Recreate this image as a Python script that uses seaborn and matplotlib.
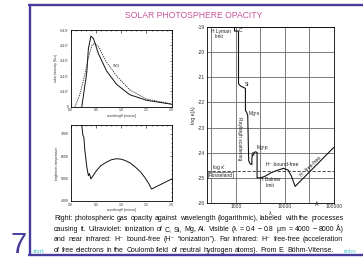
import numpy as np
import pandas as pd
import matplotlib
matplotlib.use("Agg")
import matplotlib.pyplot as plt
import seaborn as sns
from matplotlib.ticker import MultipleLocator, LogLocator, NullFormatter
from matplotlib.lines import Line2D

sns.set_theme(style="white")
plt.rcParams['font.family'] = ['Liberation Sans', 'DejaVu Sans']
plt.rcParams['axes.unicode_minus'] = False

# ---------------- data ----------------
# top-left: solar spectrum (solid) vs 5800 K black body (dashed), wavelength in micron
spec_wl = [0.22, 0.25, 0.28, 0.30, 0.32, 0.35, 0.40, 0.45, 0.55, 0.71, 0.91, 1.17, 1.50, 2.00]
spec_flux = [0.0, 0.67, 1.40, 1.78, 2.30, 3.78, 4.60, 4.45, 3.45, 2.33, 1.45, 0.78, 0.42, 0.16]
bb_wl = [0.085, 0.18, 0.28, 0.35, 0.42, 0.48, 0.55, 0.71, 0.91, 1.17, 1.50, 2.00]
bb_flux = [0.0, 0.78, 2.10, 3.20, 4.00, 4.15, 3.90, 2.90, 2.00, 1.10, 0.50, 0.18]
flux_ticks = [0, 1, 2, 3, 4, 5]
flux_labels = ["0", "1x10\u2077", "2x10\u2077", "3x10\u2077", "4x10\u2077", "5x10\u2077"]
wl_ticks = [0.0, 0.5, 1.0, 1.5, 2.0]
wl_labels = ["0.0", "0.5", "1.0", "1.5", "2.0"]

# bottom-left: brightness temperature
bt_wl = [0.22, 0.24, 0.26, 0.28, 0.32, 0.35, 0.37, 0.40, 0.51, 0.60, 0.71, 0.80, 0.90, 1.00,
         1.08, 1.18, 1.27, 1.38, 1.47, 1.55, 1.60, 2.00]
bt_T = [7380, 6930, 6850, 6250, 5500, 5130, 5220, 4980, 5350, 5580, 5730, 5830, 5880, 5860,
        5800, 5690, 5530, 5300, 5040, 4760, 4530, 4980]
T_ticks = [4000, 5000, 6000, 7000]

# right: log opacity vs wavelength (Angstrom)
op_lam = [912, 912, 1100, 1100, 1150, 1250, 1400, 1527, 1527, 1620, 1700, 1780, 1900, 2070,
          2070, 2200, 2400, 2645, 2645, 3090, 3900, 4940, 6550, 9220, 11500, 13250, 15960, 99500]
op_logk = [-18.5, -19.15, -19.15, -21.24, -21.30, -21.36, -21.40, -21.44, -22.32, -22.40, -22.52,
           -24.32, -24.45, -24.48, -24.20, -24.05, -23.97, -23.99, -25.01, -25.01, -24.94, -24.82,
           -24.72, -24.63, -24.70, -24.92, -25.35, -23.79]
ross_logk = -24.75
lam_ticks = [300, 1000, 3000, 10000, 30000, 100000]
lam_labels = ["", "1000", "", "10000", "", "100000"]
logk_ticks = [-26, -25, -24, -23, -22, -21, -20, -19]

caption = [
    "Right: photospheric gas opacity against wavelength (logarithmic), labeled with the processes",
    "causing it. Ultraviolet: ionization of C, Si, Mg, Al. Visible (\u03bb = 0.4 \u2212 0.8 \u03bcm = 4000 \u2212 8000 \u00c5)",
    "and near infrared: H\u207b bound-free (H\u207b \u201cionization\u201d). Far infrared: H\u207b free-free (acceleration",
    "of free electrons in the Coulomb field of neutral hydrogen atoms). From E. B\u00f6hm-Vitense.",
]

# ---------------- figure ----------------
W, H = 363, 259
fig = plt.figure(figsize=(W / 100, H / 100), dpi=100)
fig.patch.set_facecolor("white")
PURPLE = "#463c9b"
PINK = "#c8559c"
CYAN = "#3cc4c8"


def rect(l, t, r, b):
    return [l / W, 1 - b / H, (r - l) / W, (b - t) / H]


def ptxt(x, y, s, **kw):
    return fig.text(x / W, 1 - y / H, s, **kw)


def style_axes(ax, lab=2.4):
    for sp in ax.spines.values():
        sp.set_color("black")
        sp.set_linewidth(0.6)
    ax.tick_params(which="both", direction="in", colors="black", labelsize=lab,
                   pad=1.2, width=0.4, labelcolor="#333333")
    ax.tick_params(which="major", length=1.8)
    ax.tick_params(which="minor", length=0.9)


# top-left
ax1 = fig.add_axes(rect(70.7, 30, 171.7, 106.7))
sns.lineplot(x=spec_wl, y=spec_flux, ax=ax1, color="#111111", lw=0.7, sort=False, estimator=None)
sns.lineplot(x=bb_wl, y=bb_flux, ax=ax1, color="#222222", lw=0.6, sort=False, estimator=None,
             linestyle=(0, (1.5, 1.2)))
ax1.set_xlim(0, 2)
ax1.set_ylim(0, 5)
ax1.set_xticks(wl_ticks)
ax1.set_xticklabels(wl_labels)
ax1.set_yticks(flux_ticks)
ax1.set_yticklabels(flux_labels)
ax1.xaxis.set_minor_locator(MultipleLocator(0.1))
ax1.yaxis.set_minor_locator(MultipleLocator(0.2))
style_axes(ax1, 2.5)
ax1.tick_params(which="both", top=True, right=True)
ax1.set_xlabel("wavelength [micron]", fontsize=2.3, labelpad=1, color="#333333")
ax1.set_ylabel("solar intensity (flux)", fontsize=2.3, labelpad=1.2, color="#333333")
ax1.text(0.84, 2.56, "5800", fontsize=2.3, color="#333333")

# bottom-left
ax2 = fig.add_axes(rect(70.7, 125, 171.7, 201))
sns.lineplot(x=bt_wl, y=bt_T, ax=ax2, color="#111111", lw=0.7, sort=False, estimator=None)
ax2.set_xlim(0, 2)
ax2.set_ylim(4000, 7380)
ax2.set_xticks(wl_ticks)
ax2.set_xticklabels(wl_labels)
ax2.set_yticks(T_ticks)
ax2.xaxis.set_minor_locator(MultipleLocator(0.1))
ax2.yaxis.set_minor_locator(MultipleLocator(200))
style_axes(ax2, 2.5)
ax2.tick_params(which="both", top=True, right=True)
ax2.set_xlabel("wavelength [micron]", fontsize=2.3, labelpad=1, color="#333333")
ax2.set_ylabel("brightness temperature", fontsize=2.3, labelpad=1.2, color="#333333")

# right
ax3 = fig.add_axes(rect(206.7, 27.3, 334, 202.7))
ax3.set_xscale("log")
sns.lineplot(x=op_lam, y=op_logk, ax=ax3, color="#111111", lw=0.8, sort=False, estimator=None)
ax3.axhline(ross_logk, color="#333333", lw=0.6, linestyle=(0, (4, 2)))
ax3.set_xlim(245, 1e5)
ax3.set_ylim(-26, -19)
ax3.set_xticks(lam_ticks)
ax3.set_xticklabels(lam_labels)
ax3.xaxis.set_minor_locator(LogLocator(base=10, subs=np.arange(2, 10)))
ax3.xaxis.set_minor_formatter(NullFormatter())
ax3.set_yticks(logk_ticks)
ax3.set_yticklabels([str(v) for v in logk_ticks])
ax3.yaxis.set_minor_locator(MultipleLocator(0.2))
ax3.grid(True, which="major", color="#666666", lw=0.6)
style_axes(ax3, 3.6)
ax3.tick_params(which="major", length=0, pad=1.0)
ax3.tick_params(which="minor", length=1.5, width=0.5)
ax3.set_ylabel("log \u03ba(\u03bb)", fontsize=3.8, labelpad=1.2, color="#222222")
ax3.set_xlabel("\u03bb", fontsize=3.8, labelpad=1.5, color="#222222")

fs = 3.6
tc = "#222222"
ptxt(211.5, 31.7, "H Lyman", fontsize=fs, color=tc, va="center")
ptxt(215, 36.3, "limit", fontsize=fs, color=tc, va="center")
ptxt(239, 31, "C", fontsize=fs, color=tc, va="center")
ptxt(244.5, 85, "Si", fontsize=fs, color=tc, va="center")
ptxt(248.5, 113, "Mg\u00b9s", fontsize=fs, color=tc, va="center")
ptxt(239.5, 139, "Rayleigh scattering", fontsize=fs, color=tc, va="center", ha="center", rotation=-90)
ptxt(250.5, 154, "Al", fontsize=fs, color=tc, va="center")
ptxt(256.5, 148, "Mg\u00b9p", fontsize=fs, color=tc, va="center")
ptxt(266, 164, "H\u207b bound-free", fontsize=fs, color=tc, va="center")
ptxt(213, 167, "log \u03ba\u0304", fontsize=fs, color=tc, va="center")
ptxt(208.5, 175.3, "Rosseland", fontsize=fs, color=tc, va="center",
     bbox=dict(boxstyle="square,pad=0.12", fc="white", ec="#333333", lw=0.4))
ptxt(260, 179.5, "H Balmer", fontsize=fs, color=tc, va="center")
ptxt(266, 185.8, "limit", fontsize=fs, color=tc, va="center")
ptxt(310.5, 166.5, "H\u207b free-free", fontsize=fs, color=tc, va="center", ha="center", rotation=44)
ptxt(316.7, 204.5, "\u00c5", fontsize=3.8, color=tc, va="center", ha="center")

# slide decoration
fig.add_artist(Line2D([30 / W, 30 / W], [1 - 5 / H, 1 - 255 / H], color=PURPLE, lw=1.7))
fig.add_artist(Line2D([29.4 / W, 1.0], [1 - 5 / H, 1 - 5 / H], color=PURPLE, lw=1.7))
fig.add_artist(Line2D([29.4 / W, 1.0], [1 - 255 / H, 1 - 255 / H], color=PURPLE, lw=1.7))
ptxt(10.5, 258.8, "7", fontsize=21, color=PURPLE, va="bottom", ha="left")
ptxt(194, 17.5, "SOLAR PHOTOSPHERE OPACITY", fontsize=6.2, color=PINK, va="baseline", ha="center")
ptxt(33, 253, "start", fontsize=3.5, color=CYAN, va="baseline", ha="left", family="DejaVu Serif")
ptxt(344, 253, "index", fontsize=3.4, color=CYAN, va="baseline", ha="left",
     family="DejaVu Serif", style="italic")

# caption: font size from the first line measured in place, then words justified
x0, x1 = 54.0, 343.3
baselines = [220.0, 230.8, 241.3, 251.5]
probe = ptxt(x0, baselines[0], caption[0], fontsize=5.5, va="baseline", ha="left")
fig.canvas.draw()
rend = fig.canvas.get_renderer()
base_fs = 5.5 * (x1 - x0) / probe.get_window_extent(rend).width
probe.remove()

for i, (line, yb) in enumerate(zip(caption, baselines)):
    words = line.split(" ")
    size = base_fs
    whole = ptxt(x0, yb, line, fontsize=size, va="baseline", ha="left")
    texts = [ptxt(x0, yb, w, fontsize=size, color="#111111", va="baseline", ha="left") for w in words]
    fig.canvas.draw()
    line_w = whole.get_window_extent(rend).width
    widths = [t.get_window_extent(rend).width for t in texts]
    whole.remove()
    # natural space width implied by the whole-line measurement
    space = max((line_w - sum(widths)) / (len(words) - 1), 0.5)
    if i < len(caption) - 1 and line_w > (x1 - x0):
        scale = (x1 - x0) / line_w
        size *= scale
        for t in texts:
            t.set_fontsize(size)
        widths = [w * scale for w in widths]
        space *= scale
    if i < len(caption) - 1:
        gap = (x1 - x0 - sum(widths)) / (len(words) - 1)
        if gap < 0.3 * space or gap > 3.0 * space:
            gap = space
    else:
        gap = space
    x = x0
    for t, w in zip(texts, widths):
        t.set_x(x / W)
        x += w + gap

fig.savefig("out.png", dpi=100, facecolor="white")
